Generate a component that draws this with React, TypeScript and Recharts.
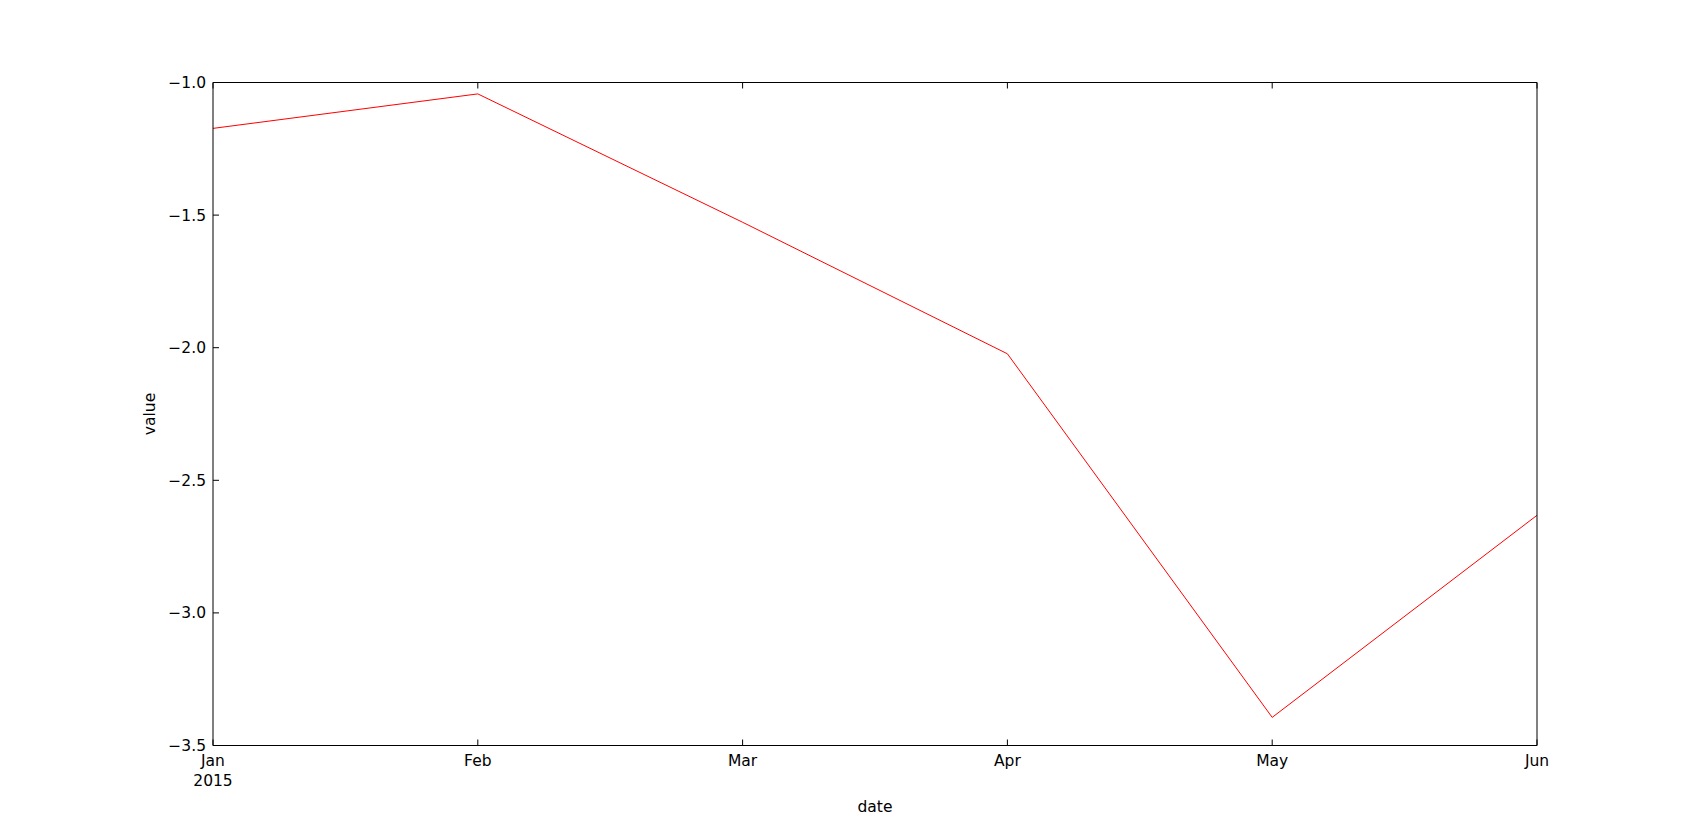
import React from 'react';
import { LineChart, Line, XAxis, YAxis } from 'recharts';

// monthly values, Jan..Jun 2015
const months = ['Jan', 'Feb', 'Mar', 'Apr', 'May', 'Jun'];
const values = [-1.173, -1.043, -1.527, -2.023, -3.394, -2.632];
const yTicks = [-3.5, -3.0, -2.5, -2.0, -1.5, -1.0];

const data = months.map((m, i) => ({ month: m, value: values[i] }));

const FONT = '"DejaVu Sans", sans-serif';
const FS = 15.5;
const TICK_LEN = 6;

const fmt = (v: number) => v.toFixed(1).replace('-', '\u2212');

const BottomTick = (props: any) => {
  const { x, y, payload, index } = props;
  return (
    <g>
      <line x1={x} x2={x} y1={y} y2={y - TICK_LEN} stroke="#000" />
      <text x={x} y={y + 20} textAnchor="middle" fontFamily={FONT} fontSize={FS} fill="#000">
        {payload.value}
      </text>
      {index === 0 && (
        <text x={x} y={y + 40} textAnchor="middle" fontFamily={FONT} fontSize={FS} fill="#000">
          2015
        </text>
      )}
    </g>
  );
};

const TopTick = (props: any) => {
  const { x, y } = props;
  return <line x1={x} x2={x} y1={y} y2={y + TICK_LEN} stroke="#000" />;
};

const LeftTick = (props: any) => {
  const { x, y, payload } = props;
  return (
    <g>
      <line x1={x} x2={x + TICK_LEN} y1={y} y2={y} stroke="#000" />
      <text x={x - 7} y={y + 5.5} textAnchor="end" fontFamily={FONT} fontSize={FS} fill="#000">
        {fmt(payload.value)}
      </text>
    </g>
  );
};

const RightTick = (props: any) => {
  const { x, y } = props;
  return <line x1={x} x2={x - TICK_LEN} y1={y} y2={y} stroke="#000" />;
};

export default function App() {
  return (
    <div style={{ position: 'absolute', left: 0, top: 0, width: 1707, height: 828, background: '#fff' }}>
      <LineChart
        width={1707}
        height={828}
        data={data}
        margin={{ top: 81.5, right: 169, bottom: 52.5, left: 133 }}
      >
        <XAxis
          dataKey="month"
          height={30}
          tickSize={0}
          tickMargin={0}
          tickLine={false}
          axisLine={{ stroke: '#000' }}
          tick={<BottomTick />}
          interval={0}
          label={{
            content: ({ viewBox }: any) => (
              <text
                x={viewBox.x + viewBox.width / 2}
                y={viewBox.y + 66}
                textAnchor="middle"
                fontFamily={FONT}
                fontSize={FS}
                fill="#000"
              >
                date
              </text>
            ),
          }}
        />
        <XAxis
          xAxisId="top"
          dataKey="month"
          orientation="top"
          height={1}
          tickSize={0}
          tickMargin={0}
          tickLine={false}
          axisLine={{ stroke: '#000' }}
          tick={<TopTick />}
          interval={0}
        />
        <YAxis
          width={80}
          domain={[-3.5, -1.0]}
          ticks={yTicks}
          tickSize={0}
          tickMargin={0}
          tickLine={false}
          axisLine={{ stroke: '#000' }}
          tick={<LeftTick />}
          interval={0}
          label={{
            content: ({ viewBox }: any) => {
              const cx = viewBox.x + 17;
              const cy = viewBox.y + viewBox.height / 2;
              return (
                <text
                  x={cx}
                  y={cy}
                  transform={`rotate(-90 ${cx} ${cy})`}
                  textAnchor="middle"
                  dominantBaseline="central"
                  fontFamily={FONT}
                  fontSize={FS}
                  fill="#000"
                >
                  value
                </text>
              );
            },
          }}
        />
        <YAxis
          yAxisId="right"
          orientation="right"
          width={1}
          domain={[-3.5, -1.0]}
          ticks={yTicks}
          tickSize={0}
          tickMargin={0}
          tickLine={false}
          axisLine={{ stroke: '#000' }}
          tick={<RightTick />}
          interval={0}
        />
        <Line
          type="linear"
          dataKey="value"
          stroke="#ff0000"
          strokeWidth={1}
          dot={false}
          isAnimationActive={false}
        />
      </LineChart>
    </div>
  );
}
